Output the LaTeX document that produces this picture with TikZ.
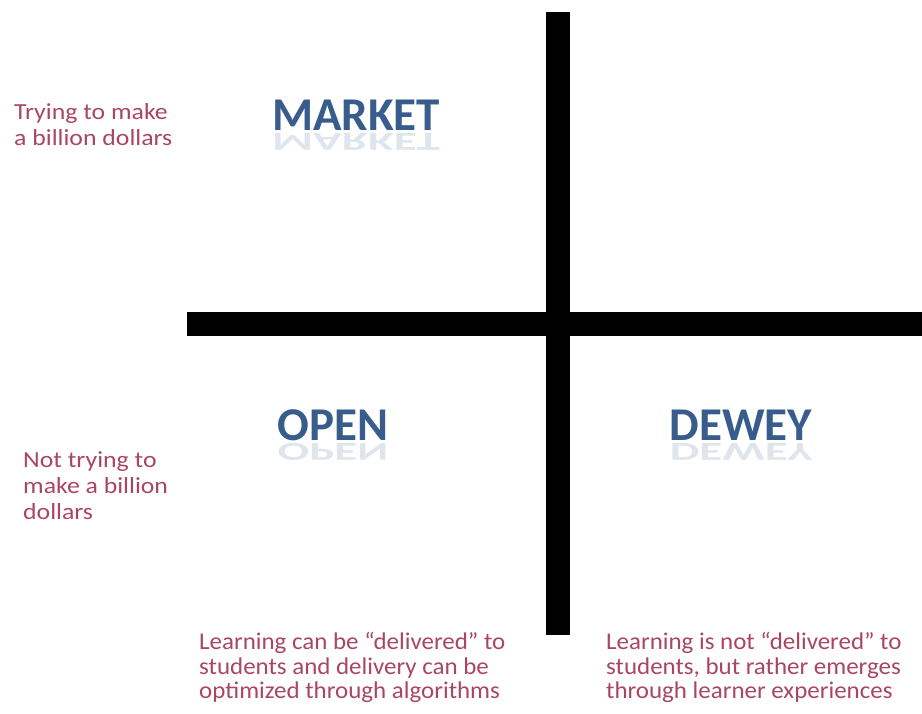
\documentclass[tikz,border=0pt]{standalone}
\usepackage{fontspec}
\setmainfont{Carlito}
\newfontfamily\sidefont[FakeStretch=1.12]{Carlito}
\newfontfamily\footfont[FakeStretch=1.04]{Carlito}
\usepackage{tikz}

\definecolor{notered}{RGB}{170,70,98}
\definecolor{headblue}{RGB}{56,92,140}

\begin{document}
\begin{tikzpicture}[x=1pt,y=-1pt,
  bar/.style={line width=24pt,black},
  head/.style={font=\fontsize{47}{50}\selectfont\bfseries,text=headblue,inner sep=0pt,anchor=base},
  echo/.style={font=\fontsize{47}{50}\selectfont\bfseries,text=headblue!16,inner sep=0pt,anchor=north},
  note/.style={font=\sidefont\fontsize{23}{26}\selectfont,text=notered,align=left,inner sep=0pt,anchor=north west}]
\useasboundingbox (0,0) rectangle (922,713);

% the two axes
\coordinate (vtop) at (558,12);
\coordinate (vbot) at (558,635);
\coordinate (hleft) at (187,324);
\coordinate (hright) at (922,324);
\draw[bar] (vtop) -- (vbot);
\draw[bar] (hleft) -- (hright);

% quadrant names
\node[head] (market) at (356,130) {MARKET};
\node[head] (open) at (333,440) {OPEN};
\node[head] (dewey) at (741,440) {DEWEY};
\node[echo] (marketecho) at (356,133) {\scalebox{1}[-0.55]{MARKET}};
\node[echo] (openecho) at (333,443) {\scalebox{1}[-0.55]{OPEN}};
\node[echo] (deweyecho) at (741,443) {\scalebox{1}[-0.55]{DEWEY}};

% side notes
\node[note] (rich) at (14,103) {Trying to make\\a billion dollars};
\node[note] (notrich) at (23,451) {Not trying to\\make a billion\\dollars};
\node[note,font=\footfont\fontsize{24}{24.5}\selectfont] (deliver) at (199,632)
  {Learning can be “delivered” to\\students and delivery can be\\optimized through algorithms};
\node[note,font=\footfont\fontsize{24}{24.5}\selectfont] (emerge) at (606,632)
  {Learning is not “delivered” to\\students, but rather emerges\\through learner experiences};
\end{tikzpicture}
\end{document}
